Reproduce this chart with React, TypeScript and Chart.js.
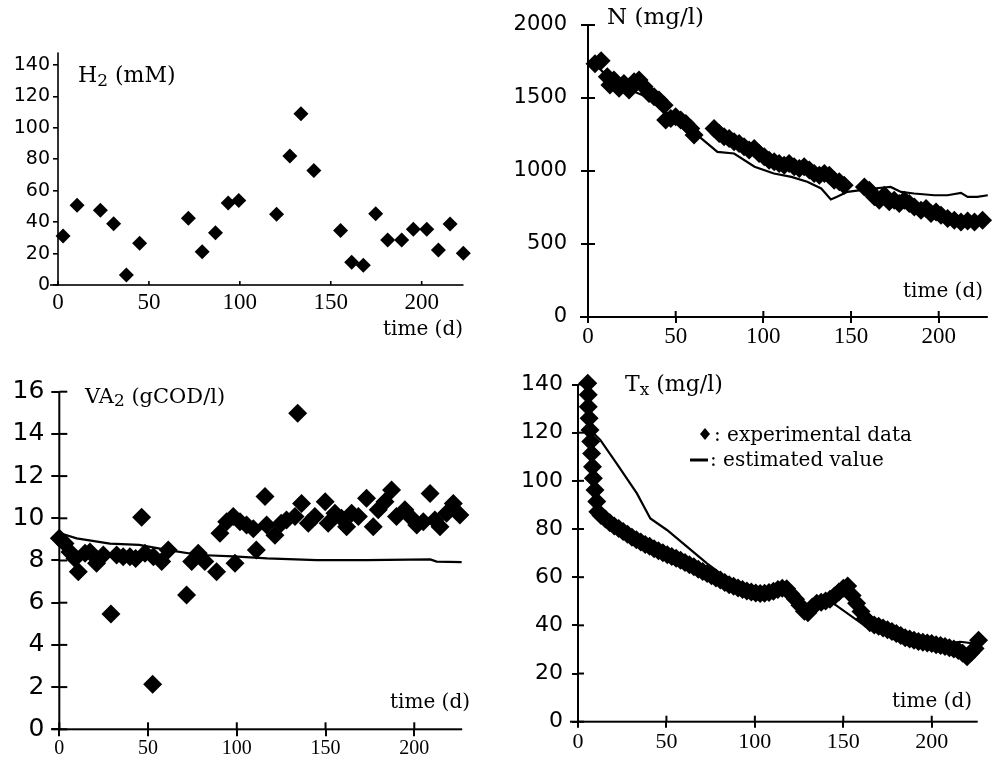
import React, { useEffect, useRef } from 'react';
import { Chart, registerables } from 'chart.js';

Chart.register(...registerables);

// ---------- tick labels ----------
const TIME_TICKS = [0, 50, 100, 150, 200];
const H2_Y_TICKS = [0, 20, 40, 60, 80, 100, 120, 140];
const N_Y_TICKS = [0, 500, 1000, 1500, 2000];
const VA_Y_TICKS = [0, 2, 4, 6, 8, 10, 12, 14, 16];
const TX_Y_TICKS = [0, 20, 40, 60, 80, 100, 120, 140];

// ---------- H2 (mM) ----------
const H2_TIME = [2.8, 10.5, 23.3, 30.6, 37.6, 44.9, 71.7, 79.3, 86.6, 93.6, 99.4, 120.2, 127.5, 133.6, 140.7, 155.4, 161.5, 167.9, 174.7, 181.3, 189, 195.4, 202.8, 209.2, 215.6, 222.9];
const H2_VALUES = [31.2, 50.7, 47.5, 39, 6.4, 26.5, 42.4, 21.2, 33.3, 52.2, 53.7, 45, 82.1, 109, 72.8, 34.6, 14.4, 12.5, 45.4, 28.6, 28.6, 35.4, 35.4, 22.3, 38.8, 20.2];

// ---------- N (mg/l) ----------
const N_TIME = [4, 7.5, 11, 12.5, 14.8, 17.7, 20.5, 23.4, 26.3, 29.1, 32, 34.8, 37.7, 40.5, 43.4, 44.3, 47.2, 50, 52.9, 55.8, 58.6, 60.5, 71.9, 74.8, 77.6, 80.5, 83.3, 86.2, 89, 91.9, 94.8, 97.6, 100.5, 103.3, 106.2, 109, 111.9, 114.7, 117.6, 120.5, 123.3, 126.2, 129, 131.9, 134.8, 137.6, 140.4, 143.3, 146.1, 157.6, 160.4, 163.3, 166.1, 169, 171.8, 174.6, 177.5, 180.4, 183.2, 186.1, 189.9, 192.8, 195.6, 198.5, 201.3, 205.1, 208.9, 212.7, 216.5, 220.4, 225];
const N_VALUES = [1735, 1755, 1646, 1589, 1623, 1566, 1600, 1554, 1611, 1623, 1577, 1531, 1509, 1486, 1451, 1349, 1360, 1371, 1349, 1326, 1291, 1246, 1291, 1257, 1234, 1223, 1200, 1189, 1166, 1143, 1154, 1120, 1097, 1074, 1063, 1051, 1040, 1051, 1029, 1017, 1029, 1006, 983, 971, 983, 971, 937, 926, 903, 891, 869, 823, 800, 834, 789, 800, 777, 800, 777, 754, 731, 743, 709, 720, 697, 674, 663, 651, 658, 651, 663];
const N_EST_TIME = [5, 15, 35, 50, 62.4, 73.8, 83.3, 95, 106, 116, 125, 133, 138.5, 142, 148, 155.6, 163, 172.6, 178.5, 186, 197.5, 205, 212.7, 216.5, 222, 228];
const N_EST_VALUES = [1720, 1600, 1500, 1350, 1246, 1131, 1120, 1029, 983, 960, 926, 880, 805, 823, 857, 869, 880, 891, 857, 846, 834, 834, 850, 823, 823, 834];

// ---------- VA2 (gCOD/l) ----------
const VA_TIME = [0, 3.2, 6, 8.8, 10.7, 14.5, 17.3, 21, 24.8, 29.1, 32.3, 36, 39.8, 43, 46.4, 48.3, 52.6, 53, 57.7, 61.4, 71.7, 74.6, 78.3, 82, 88.6, 90.5, 94.3, 98, 99, 101.8, 105.5, 109.3, 111, 115.9, 116.8, 121.5, 125, 128, 132.8, 134.3, 136.5, 140.3, 144, 149.8, 151.5, 155.3, 159, 161.9, 164.7, 168.5, 173.1, 176.9, 179.7, 183.5, 187.2, 190, 194.7, 197.6, 201.4, 205.1, 208.9, 211.6, 214.5, 218.2, 222, 225.7];
const VA_VALUES = [9.05, 8.8, 8.4, 8.1, 7.47, 8.34, 8.4, 7.87, 8.26, 5.47, 8.26, 8.18, 8.18, 8.1, 10.05, 8.34, 2.13, 8.18, 7.95, 8.5, 6.37, 7.95, 8.34, 7.95, 7.47, 9.29, 9.84, 10.08, 7.87, 9.84, 9.68, 9.5, 8.5, 11.03, 9.68, 9.2, 9.76, 9.92, 10.08, 14.98, 10.7, 9.76, 10.08, 10.79, 9.76, 10.24, 10.0, 9.6, 10.24, 10.08, 10.95, 9.6, 10.4, 10.79, 11.34, 10.08, 10.4, 10.08, 9.68, 9.84, 11.18, 9.92, 9.6, 10.24, 10.7, 10.16];
const VA_EST_TIME = [0, 9.8, 28.5, 45, 60.5, 79, 98, 117, 145, 173, 209, 212.6, 226.7];
const VA_EST_VALUES = [9.3, 9.05, 8.8, 8.74, 8.5, 8.26, 8.2, 8.1, 8.02, 8.02, 8.05, 7.95, 7.92];

// ---------- Tx (mg/l) ----------
const TX_TIME = [5.5, 5.8, 5.8, 6.3, 6.8, 7.2, 7.7, 8.2, 8.7, 9.6, 10.6, 11.2, 13, 15.5, 18, 20.5, 23, 25.5, 28, 30.5, 33, 35.5, 38, 40.5, 43, 45.5, 48, 50.5, 53, 55.5, 58, 60.5, 63, 65.5, 68, 70.5, 73, 75.5, 78, 80.5, 83, 85.5, 88, 90.5, 93, 95.5, 98, 100.5, 103, 105.5, 108, 110.5, 113, 115.5, 118, 120.5, 123, 125.5, 128, 130, 132.5, 135, 137.5, 140, 142.5, 145, 147.5, 150, 152.5, 155, 157.5, 160, 162.5, 165, 167.5, 170, 172.5, 175, 177.5, 180, 182.5, 185, 187.5, 190, 192.5, 195, 197.5, 200, 202.5, 205, 207.5, 210, 212.5, 215, 217.5, 220, 222, 224.5, 226.5, 228];
const TX_VALUES = [140.5, 135.7, 130.8, 126, 121.1, 116.3, 111.4, 105.9, 101.1, 96.2, 91.4, 87.2, 85.6, 84.2, 82.6, 81.3, 80.2, 79.0, 77.8, 76.6, 75.5, 74.6, 73.6, 72.8, 71.8, 71.0, 70.1, 69.3, 68.6, 67.9, 67.0, 66.1, 65.2, 64.3, 63.3, 62.4, 61.5, 60.6, 59.7, 58.8, 57.8, 56.9, 56.2, 55.5, 54.9, 54.3, 53.8, 53.4, 53.2, 53.3, 53.6, 54.2, 54.9, 55.4, 55.2, 52.9, 50.8, 48.3, 45.9, 45.2, 47.6, 49.2, 49.6, 50.1, 50.8, 52.2, 53.8, 55.4, 56.3, 52.4, 49.2, 45.8, 42.8, 41.1, 40.2, 39.6, 38.9, 38.2, 37.5, 36.6, 35.8, 34.9, 34.3, 33.8, 33.3, 33.0, 32.7, 32.5, 32.0, 31.6, 31.2, 30.7, 30.2, 29.6, 28.4, 27.0, 28.5, 30.4, 33.8, 35.6];
const TX_EST_TIME = [5, 12.6, 22, 33.3, 40.9, 50.3, 61.6, 72.9, 88, 101, 116, 129, 144.4, 163, 182, 201, 216, 223.5, 227];
const TX_EST_VALUES = [122.5, 117, 107, 94.8, 84.4, 79.6, 72.7, 65.7, 57.4, 54, 54.7, 46.4, 49.1, 39.4, 35.3, 31.8, 33.2, 32.5, 35];

const SERIF = '"DejaVu Serif", serif';
const TICK_SERIF = '"Liberation Serif", "Times New Roman", serif';
const SANS = '"DejaVu Sans", sans-serif';

type Part = { text: string; size: number; dy?: number };

type Panel = {
  box: { x: number; y: number; w: number; h: number };
  plot: { left: number; right: number; top: number; bottom: number };
  xMax: number;
  yMax: number;
  yTicks: number[];
  yFont: number;
  yPad: number;
  xFont: number;
  xPad: number;
  yTickL: number;
  yTickR: number;
  xTickUp: number;
  xTickDown: number;
  axisW: number;
  radius: number;
  time: number[];
  values: number[];
  estTime?: number[];
  estValues?: number[];
  title: Part[];
  titlePos: { x: number; y: number };
  timeLabel: { x: number; y: number; size: number };
  legend?: boolean;
};

const PANELS: Panel[] = [
  {
    box: { x: 0, y: 0, w: 495, h: 345 },
    plot: { left: 58, right: 463.5, top: 52.4, bottom: 285 },
    xMax: 223, yMax: 148, yTicks: H2_Y_TICKS, yFont: 19, yPad: 8, xFont: 23, xPad: 4,
    yTickL: 5, yTickR: 0, xTickUp: 4, xTickDown: 0, axisW: 1.6, radius: 7.5,
    time: H2_TIME, values: H2_VALUES,
    title: [{ text: 'H', size: 22 }, { text: '2', size: 17, dy: 4 }, { text: ' (mM)', size: 22 }],
    titlePos: { x: 78, y: 82 },
    timeLabel: { x: 463, y: 335, size: 20 },
  },
  {
    box: { x: 495, y: 0, w: 504, h: 345 },
    plot: { left: 588, right: 987.8, top: 25, bottom: 317 },
    xMax: 228, yMax: 2000, yTicks: N_Y_TICKS, yFont: 21, yPad: 21, xFont: 23, xPad: 6,
    yTickL: 7, yTickR: 7, xTickUp: 6, xTickDown: 6, axisW: 2, radius: 9.5,
    time: N_TIME, values: N_VALUES, estTime: N_EST_TIME, estValues: N_EST_VALUES,
    title: [{ text: 'N (mg/l)', size: 23 }],
    titlePos: { x: 607, y: 23.5 },
    timeLabel: { x: 983, y: 297, size: 20 },
  },
  {
    box: { x: 0, y: 350, w: 495, h: 419 },
    plot: { left: 59.3, right: 462.2, top: 391.7, bottom: 729.3 },
    xMax: 227, yMax: 16, yTicks: VA_Y_TICKS, yFont: 25, yPad: 15, xFont: 20, xPad: 7,
    yTickL: 8, yTickR: 8, xTickUp: 7, xTickDown: 7, axisW: 2, radius: 9.5,
    time: VA_TIME, values: VA_VALUES, estTime: VA_EST_TIME, estValues: VA_EST_VALUES,
    title: [{ text: 'VA', size: 21 }, { text: '2', size: 17, dy: 3 }, { text: ' (gCOD/l)', size: 21 }],
    titlePos: { x: 85, y: 403 },
    timeLabel: { x: 470, y: 708, size: 20 },
  },
  {
    box: { x: 495, y: 350, w: 504, h: 419 },
    plot: { left: 578, right: 977.7, top: 384.5, bottom: 721.7 },
    xMax: 226, yMax: 140, yTicks: TX_Y_TICKS, yFont: 22, yPad: 15, xFont: 22, xPad: 7,
    yTickL: 6, yTickR: 6, xTickUp: 6, xTickDown: 6, axisW: 2, radius: 9.5,
    time: TX_TIME, values: TX_VALUES, estTime: TX_EST_TIME, estValues: TX_EST_VALUES,
    title: [{ text: 'T', size: 22 }, { text: 'x', size: 17, dy: 4 }, { text: ' (mg/l)', size: 22 }],
    titlePos: { x: 625, y: 391 },
    timeLabel: { x: 972, y: 707, size: 20 },
    legend: true,
  },
];

function drawRich(ctx: CanvasRenderingContext2D, parts: Part[], x: number, y: number) {
  let cx = x;
  ctx.textAlign = 'left';
  ctx.textBaseline = 'alphabetic';
  for (const p of parts) {
    ctx.font = `${p.size}px ${SERIF}`;
    ctx.fillText(p.text, cx, y + (p.dy || 0));
    cx += ctx.measureText(p.text).width;
  }
}

function PanelChart({ cfg }: { cfg: Panel }) {
  const ref = useRef<HTMLCanvasElement | null>(null);
  useEffect(() => {
    const canvas = ref.current;
    if (!canvas) return;
    const { box, plot } = cfg;
    const yAxisW = plot.left - box.x;
    const xAxisH = box.y + box.h - plot.bottom;
    const padTop = plot.top - box.y;
    const padRight = box.x + box.w - plot.right;

    const decor = {
      id: 'decor',
      afterDraw(chart: any) {
        const ctx: CanvasRenderingContext2D = chart.ctx;
        const area = chart.chartArea;
        const xs = chart.scales.x;
        const ys = chart.scales.y;
        const ox = box.x;
        const oy = box.y;
        const x0 = area.left;
        const y0 = area.bottom;
        const w = cfg.axisW;
        const px = (v: number) => {
          const p = Number(xs.getPixelForValue(v));
          return isFinite(p) ? p : area.left + (v / cfg.xMax) * (area.right - area.left);
        };
        const py = (v: number) => {
          const p = Number(ys.getPixelForValue(v));
          return isFinite(p) ? p : area.bottom - (v / cfg.yMax) * (area.bottom - area.top);
        };
        ctx.save();
        ctx.fillStyle = '#000';
        ctx.fillRect(x0 - w / 2, area.top, w, y0 - area.top + w / 2);
        ctx.fillRect(x0 - 8, y0 - w / 2, area.right - x0 + 8, w);
        // inner halves of tick marks (outer halves are drawn by the scales)
        for (const v of cfg.yTicks) {
          const y = py(v);
          if (cfg.yTickR > 0) ctx.fillRect(x0, y - w / 2, cfg.yTickR, w);
        }
        for (const v of TIME_TICKS) {
          const x = px(v);
          if (cfg.xTickUp > 0) ctx.fillRect(x - w / 2, y0 - cfg.xTickUp, w, cfg.xTickUp);
        }

        drawRich(ctx, cfg.title, cfg.titlePos.x - ox, cfg.titlePos.y - oy);

        ctx.font = `${cfg.timeLabel.size}px ${SERIF}`;
        ctx.textAlign = 'right';
        ctx.textBaseline = 'alphabetic';
        ctx.fillText('time (d)', cfg.timeLabel.x - ox, cfg.timeLabel.y - oy);

        if (cfg.legend) {
          const dx = 705 - ox;
          const dy = 434 - oy;
          ctx.beginPath();
          ctx.moveTo(dx - 5, dy);
          ctx.lineTo(dx, dy - 6);
          ctx.lineTo(dx + 5, dy);
          ctx.lineTo(dx, dy + 6);
          ctx.closePath();
          ctx.fill();
          ctx.font = `20px ${SERIF}`;
          ctx.textAlign = 'left';
          ctx.fillText(': experimental data', 714 - ox, 441 - oy);
          ctx.fillRect(690 - ox, 458.5 - oy, 18, 3);
          ctx.fillText(': estimated value', 710 - ox, 466 - oy);
        }
        ctx.restore();
      },
    };

    const datasets: any[] = [
      {
        label: 'experimental data',
        data: cfg.time.map((t, i) => ({ x: t, y: cfg.values[i] })),
        pointStyle: 'rectRot',
        pointRadius: cfg.radius,
        pointBackgroundColor: '#000',
        pointBorderColor: '#000',
        pointBorderWidth: 0,
        showLine: false,
        clip: false,
        order: 2,
      },
    ];
    if (cfg.estTime && cfg.estValues) {
      const ev = cfg.estValues;
      datasets.push({
        label: 'estimated value',
        data: cfg.estTime.map((t, i) => ({ x: t, y: ev[i] })),
        showLine: true,
        pointRadius: 0,
        borderColor: '#000',
        borderWidth: 2.2,
        tension: 0,
        fill: false,
        clip: false,
        order: 1,
      });
    }

    const xGrid = cfg.xTickDown > 0
      ? { display: true, drawOnChartArea: false, drawTicks: true, tickLength: cfg.xTickDown, color: '#000', tickColor: '#000', lineWidth: cfg.axisW, tickWidth: cfg.axisW }
      : { display: false, drawTicks: false };
    const yGrid = cfg.yTickL > 0
      ? { display: true, drawOnChartArea: false, drawTicks: true, tickLength: cfg.yTickL, color: '#000', tickColor: '#000', lineWidth: cfg.axisW, tickWidth: cfg.axisW }
      : { display: false, drawTicks: false };

    const chart = new Chart(canvas, {
      type: 'scatter',
      data: { datasets },
      options: {
        responsive: false,
        maintainAspectRatio: false,
        animation: false,
        events: [],
        devicePixelRatio: 1,
        layout: { autoPadding: false, padding: { left: 0, top: padTop, right: padRight, bottom: 0 } },
        plugins: { legend: { display: false }, tooltip: { enabled: false }, title: { display: false } },
        scales: {
          x: {
            type: 'linear',
            min: 0,
            max: cfg.xMax,
            grid: xGrid,
            border: { display: false },
            afterBuildTicks: (s: any) => {
              s.ticks = TIME_TICKS.map((v) => ({ value: v }));
            },
            afterFit: (s: any) => {
              s.height = xAxisH;
              s.paddingLeft = 0;
              s.paddingRight = 0;
            },
            ticks: {
              color: '#000',
              font: { family: TICK_SERIF, size: cfg.xFont },
              padding: Math.max(0, cfg.xPad - cfg.xTickDown),
              maxRotation: 0,
              autoSkip: false,
              callback: (v: any) => String(v),
            },
          },
          y: {
            type: 'linear',
            min: 0,
            max: cfg.yMax,
            grid: yGrid,
            border: { display: false },
            afterBuildTicks: (s: any) => {
              s.ticks = cfg.yTicks.map((v) => ({ value: v }));
            },
            afterFit: (s: any) => {
              s.width = yAxisW;
              s.paddingTop = 0;
              s.paddingBottom = 0;
            },
            ticks: {
              color: '#000',
              font: { family: SANS, size: cfg.yFont },
              padding: Math.max(0, cfg.yPad - cfg.yTickL),
              autoSkip: false,
              callback: (v: any) => String(v),
            },
          },
        },
      } as any,
      plugins: [decor],
    });
    return () => chart.destroy();
  }, [cfg]);

  return (
    <canvas
      ref={ref}
      width={cfg.box.w}
      height={cfg.box.h}
      style={{ position: 'absolute', left: cfg.box.x, top: cfg.box.y, width: cfg.box.w, height: cfg.box.h }}
    />
  );
}

export default function App() {
  return (
    <div style={{ position: 'fixed', left: 0, top: 0, width: 999, height: 769, background: '#fff', overflow: 'hidden' }}>
      {PANELS.map((p, i) => (
        <PanelChart key={i} cfg={p} />
      ))}
    </div>
  );
}
